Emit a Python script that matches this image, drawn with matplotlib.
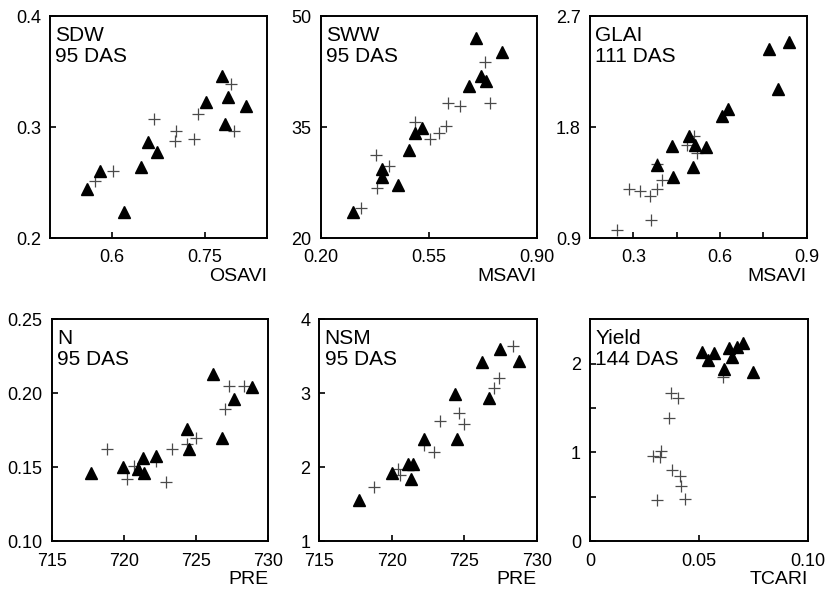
import matplotlib
matplotlib.use("Agg")
import matplotlib.pyplot as plt

plt.rcParams["font.family"] = ["Liberation Sans", "DejaVu Sans"]

# ---- SDW (95 DAS) vs OSAVI ----
sdw_tri_x = [0.560, 0.581, 0.620, 0.647, 0.659, 0.672, 0.752, 0.778, 0.787, 0.782, 0.817]
sdw_tri_y = [0.244, 0.261, 0.224, 0.264, 0.287, 0.278, 0.323, 0.346, 0.327, 0.303, 0.319]
sdw_plus_x = [0.572, 0.602, 0.668, 0.704, 0.702, 0.732, 0.739, 0.792, 0.797]
sdw_plus_y = [0.252, 0.261, 0.307, 0.297, 0.288, 0.289, 0.312, 0.339, 0.297]

# ---- SWW (95 DAS) vs MSAVI ----
sww_tri_x = [0.702, 0.788, 0.681, 0.720, 0.736, 0.529, 0.505, 0.487, 0.398, 0.398, 0.452, 0.305]
sww_tri_y = [47.1, 45.1, 40.6, 41.85, 41.2, 34.95, 34.2, 31.9, 29.4, 28.3, 27.2, 23.5]
sww_plus_x = [0.733, 0.750, 0.614, 0.650, 0.606, 0.584, 0.554, 0.505, 0.379, 0.421, 0.383, 0.331]
sww_plus_y = [43.8, 38.3, 38.2, 37.9, 35.2, 34.2, 33.4, 35.7, 31.2, 29.7, 26.8, 24.1]

# ---- GLAI (111 DAS) vs MSAVI ----
glai_tri_x = [0.840, 0.769, 0.802, 0.629, 0.606, 0.494, 0.513, 0.552, 0.433, 0.381, 0.505, 0.436]
glai_tri_y = [2.49, 2.43, 2.11, 1.95, 1.89, 1.728, 1.656, 1.643, 1.65, 1.494, 1.48, 1.394]
glai_plus_x = [0.510, 0.487, 0.519, 0.381, 0.398, 0.381, 0.358, 0.323, 0.286, 0.360, 0.245]
glai_plus_y = [1.73, 1.656, 1.59, 1.50, 1.372, 1.30, 1.24, 1.28, 1.30, 1.05, 0.97]

# ---- N (95 DAS) vs PRE ----
n_tri_x = [717.72, 719.96, 721.0, 721.4, 721.3, 722.2, 724.35, 724.5, 726.2, 726.8, 727.6, 728.85]
n_tri_y = [0.146, 0.150, 0.1486, 0.146, 0.156, 0.1575, 0.1756, 0.162, 0.213, 0.170, 0.196, 0.204]
n_plus_x = [718.8, 720.7, 720.2, 722.2, 723.35, 722.9, 725.0, 724.4, 727.0, 727.3, 728.3]
n_plus_y = [0.162, 0.151, 0.142, 0.154, 0.162, 0.140, 0.1695, 0.166, 0.1895, 0.205, 0.205]

# ---- NSM (95 DAS) vs PRE ----
nsm_tri_x = [717.74, 720.0, 721.14, 721.44, 721.31, 722.23, 724.36, 724.48, 726.2, 726.7, 727.5, 728.8]
nsm_tri_y = [1.56, 1.92, 2.05, 2.05, 1.84, 2.38, 2.99, 2.38, 3.42, 2.94, 3.60, 3.43]
nsm_plus_x = [718.77, 720.45, 720.6, 722.23, 722.92, 723.3, 724.64, 725.0, 727.05, 727.4, 728.35]
nsm_plus_y = [1.74, 1.976, 1.90, 2.30, 2.20, 2.63, 2.73, 2.59, 3.07, 3.20, 3.64]

# ---- Yield (144 DAS) vs TCARI ----
yld_tri_x = [0.0516, 0.0571, 0.0544, 0.0640, 0.0674, 0.0701, 0.0651, 0.0617, 0.0747]
yld_tri_y = [2.13, 2.12, 2.04, 2.17, 2.19, 2.23, 2.07, 1.94, 1.91]
yld_plus_x = [0.0612, 0.0372, 0.0403, 0.0363, 0.0325, 0.0322, 0.0291, 0.0378, 0.0413, 0.0417, 0.0309, 0.0436]
yld_plus_y = [1.85, 1.67, 1.61, 1.39, 1.02, 0.95, 0.96, 0.80, 0.73, 0.62, 0.46, 0.475]

panels = [
    dict(rect=[0.0605, 0.598, 0.262, 0.375], title="SDW\n95 DAS", xlabel="OSAVI",
         tri=(sdw_tri_x, sdw_tri_y), plus=(sdw_plus_x, sdw_plus_y),
         xlim=(0.5, 0.85), ylim=(0.2, 0.4),
         xticks=[0.6, 0.75], xlabels=["0.6", "0.75"],
         yticks=[0.2, 0.3, 0.4], ylabels=["0.2", "0.3", "0.4"]),
    dict(rect=[0.3878, 0.598, 0.2612, 0.375], title="SWW\n95 DAS", xlabel="MSAVI",
         tri=(sww_tri_x, sww_tri_y), plus=(sww_plus_x, sww_plus_y),
         xlim=(0.2, 0.9), ylim=(20, 50),
         xticks=[0.2, 0.55, 0.9], xlabels=["0.20", "0.55", "0.90"],
         yticks=[20, 35, 50], ylabels=["20", "35", "50"]),
    dict(rect=[0.7134, 0.598, 0.262, 0.375], title="GLAI\n111 DAS", xlabel="MSAVI",
         tri=(glai_tri_x, glai_tri_y), plus=(glai_plus_x, glai_plus_y),
         xlim=(0.15, 0.9), ylim=(0.9, 2.7),
         xticks=[0.3, 0.45, 0.6, 0.75, 0.9], xlabels=["0.3", "", "0.6", "", "0.9"],
         yticks=[0.9, 1.8, 2.7], ylabels=["0.9", "1.8", "2.7"]),
    dict(rect=[0.0625, 0.087, 0.262, 0.375], title="N\n95 DAS", xlabel="PRE",
         tri=(n_tri_x, n_tri_y), plus=(n_plus_x, n_plus_y),
         xlim=(715, 730), ylim=(0.10, 0.25),
         xticks=[715, 720, 725, 730], xlabels=["715", "720", "725", "730"],
         yticks=[0.10, 0.15, 0.20, 0.25], ylabels=["0.10", "0.15", "0.20", "0.25"]),
    dict(rect=[0.3861, 0.087, 0.2629, 0.375], title="NSM\n95 DAS", xlabel="PRE",
         tri=(nsm_tri_x, nsm_tri_y), plus=(nsm_plus_x, nsm_plus_y),
         xlim=(715, 730), ylim=(1, 4),
         xticks=[715, 720, 725, 730], xlabels=["715", "720", "725", "730"],
         yticks=[1, 2, 3, 4], ylabels=["1", "2", "3", "4"]),
    dict(rect=[0.7134, 0.087, 0.2632, 0.375], title="Yield\n144 DAS", xlabel="TCARI",
         tri=(yld_tri_x, yld_tri_y), plus=(yld_plus_x, yld_plus_y),
         xlim=(0, 0.10), ylim=(0, 2.5),
         xticks=[0, 0.05, 0.10], xlabels=["0", "0.05", "0.10"],
         yticks=[0, 0.5, 1, 1.5, 2], ylabels=["0", "", "1", "", "2"]),
]

fig = plt.figure(figsize=(8.27, 5.93), dpi=100)

for p in panels:
    ax = fig.add_axes(p["rect"])
    ax.plot(*p["plus"], linestyle="none", marker="+", markersize=8,
            markeredgewidth=0.9, color="#4a4a4a", zorder=2)
    ax.plot(*p["tri"], linestyle="none", marker="^", markersize=8.5,
            color="black", zorder=3)
    ax.set_xlim(*p["xlim"])
    ax.set_ylim(*p["ylim"])
    ax.set_xticks(p["xticks"], p["xlabels"])
    ax.set_yticks(p["yticks"], p["ylabels"])
    ax.tick_params(direction="in", length=4, width=1.2, labelsize=13,
                   colors="black")
    ax.tick_params(axis="x", pad=8)
    ax.tick_params(axis="y", pad=6.5)
    for s in ax.spines.values():
        s.set_linewidth(1.4)
    ax.set_xlabel(p["xlabel"], fontsize=14, loc="right")
    ax.xaxis.set_label_coords(1.0, -0.132)
    ax.xaxis.label.set_va("top")
    ax.text(0.025, 0.955, p["title"], transform=ax.transAxes, ha="left",
            va="top", fontsize=15, linespacing=1.12)

fig.savefig("out.png", dpi=100)
